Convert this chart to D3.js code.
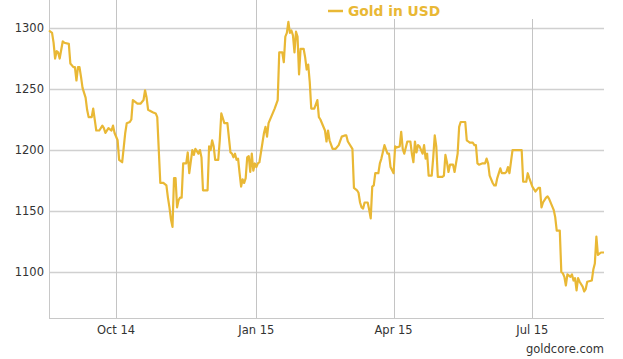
<!DOCTYPE html>
<html><head><meta charset="utf-8">
<script src="https://cdnjs.cloudflare.com/ajax/libs/d3/7.8.5/d3.min.js"></script>
<style>body{margin:0;background:#fff}svg{display:block}text{font-family:"DejaVu Sans",Verdana,sans-serif}</style>
</head><body><svg id="c" width="623" height="359"></svg>
<script>
const seriesName = "Gold in USD";
const dates = ["2014-08-18","2014-08-20","2014-08-21","2014-08-22","2014-08-23","2014-08-24","2014-08-25","2014-08-26","2014-08-27","2014-08-28","2014-08-31","2014-09-01","2014-09-03","2014-09-04","2014-09-05","2014-09-06","2014-09-07","2014-09-08","2014-09-09","2014-09-11","2014-09-12","2014-09-13","2014-09-15","2014-09-16","2014-09-17","2014-09-18","2014-09-20","2014-09-22","2014-09-23","2014-09-24","2014-09-26","2014-09-28","2014-09-29","2014-09-30","2014-10-02","2014-10-03","2014-10-05","2014-10-06","2014-10-07","2014-10-08","2014-10-10","2014-10-11","2014-10-12","2014-10-15","2014-10-17","2014-10-19","2014-10-20","2014-10-21","2014-10-22","2014-10-25","2014-10-27","2014-10-28","2014-10-30","2014-10-31","2014-11-01","2014-11-03","2014-11-04","2014-11-05","2014-11-06","2014-11-07","2014-11-08","2014-11-09","2014-11-10","2014-11-11","2014-11-12","2014-11-13","2014-11-14","2014-11-16","2014-11-17","2014-11-18","2014-11-20","2014-11-21","2014-11-22","2014-11-24","2014-11-25","2014-11-26","2014-11-27","2014-11-30","2014-12-01","2014-12-02","2014-12-03","2014-12-04","2014-12-05","2014-12-07","2014-12-08","2014-12-09","2014-12-11","2014-12-13","2014-12-15","2014-12-16","2014-12-17","2014-12-18","2014-12-19","2014-12-20","2014-12-21","2014-12-22","2014-12-23","2014-12-24","2014-12-25","2014-12-26","2014-12-27","2014-12-28","2014-12-29","2014-12-30","2014-12-31","2015-01-01","2015-01-02","2015-01-03","2015-01-05","2015-01-06","2015-01-07","2015-01-08","2015-01-09","2015-01-11","2015-01-13","2015-01-15","2015-01-16","2015-01-18","2015-01-19","2015-01-20","2015-01-21","2015-01-22","2015-01-23","2015-01-24","2015-01-25","2015-01-26","2015-01-27","2015-01-28","2015-01-29","2015-01-30","2015-02-01","2015-02-02","2015-02-03","2015-02-04","2015-02-05","2015-02-06","2015-02-08","2015-02-10","2015-02-11","2015-02-12","2015-02-15","2015-02-16","2015-02-17","2015-02-18","2015-02-20","2015-02-22","2015-02-24","2015-02-26","2015-02-28","2015-03-01","2015-03-02","2015-03-05","2015-03-06","2015-03-08","2015-03-09","2015-03-10","2015-03-11","2015-03-12","2015-03-13","2015-03-15","2015-03-16","2015-03-17","2015-03-18","2015-03-19","2015-03-20","2015-03-22","2015-03-23","2015-03-24","2015-03-26","2015-03-28","2015-03-29","2015-03-30","2015-04-01","2015-04-02","2015-04-03","2015-04-05","2015-04-06","2015-04-07","2015-04-08","2015-04-10","2015-04-12","2015-04-13","2015-04-14","2015-04-15","2015-04-16","2015-04-17","2015-04-18","2015-04-20","2015-04-21","2015-04-22","2015-04-23","2015-04-24","2015-04-26","2015-04-27","2015-04-28","2015-04-29","2015-04-30","2015-05-03","2015-05-04","2015-05-05","2015-05-06","2015-05-07","2015-05-08","2015-05-10","2015-05-11","2015-05-13","2015-05-14","2015-05-15","2015-05-18","2015-05-19","2015-05-20","2015-05-21","2015-05-23","2015-05-24","2015-05-25","2015-05-26","2015-05-27","2015-05-29","2015-05-31","2015-06-01","2015-06-02","2015-06-03","2015-06-05","2015-06-06","2015-06-07","2015-06-08","2015-06-10","2015-06-11","2015-06-13","2015-06-14","2015-06-15","2015-06-16","2015-06-18","2015-06-24","2015-06-25","2015-06-27","2015-06-28","2015-06-29","2015-07-01","2015-07-03","2015-07-05","2015-07-06","2015-07-07","2015-07-08","2015-07-10","2015-07-11","2015-07-12","2015-07-15","2015-07-16","2015-07-17","2015-07-19","2015-07-20","2015-07-21","2015-07-22","2015-07-23","2015-07-24","2015-07-26","2015-07-27","2015-07-28","2015-07-29","2015-07-30","2015-07-31","2015-08-01","2015-08-03","2015-08-04","2015-08-05","2015-08-06","2015-08-09","2015-08-10","2015-08-11","2015-08-12","2015-08-13","2015-08-15","2015-08-17"];
const prices = [1298,1296,1288,1275,1281,1280,1275,1282,1289,1288,1287,1271,1268,1268,1257,1268,1268,1260,1251,1243,1233,1227,1227,1234,1225,1216,1216,1220,1218,1214,1218,1216,1220,1214,1208,1192,1190,1202,1214,1222,1223,1225,1241,1238,1238,1241,1249,1243,1233,1231,1230,1227,1173,1173,1173,1171,1161,1153,1143,1137,1177,1177,1153,1159,1161,1161,1189,1189,1198,1181,1200,1196,1201,1197,1200,1194,1167,1167,1203,1200,1208,1203,1192,1192,1208,1230,1222,1222,1198,1197,1194,1197,1192,1193,1181,1170,1176,1173,1177,1194,1195,1182,1197,1183,1189,1186,1189,1190,1206,1214,1219,1211,1222,1228,1234,1241,1280,1280,1272,1293,1296,1305,1296,1298,1294,1280,1297,1293,1262,1283,1283,1276,1266,1270,1256,1234,1234,1241,1227,1225,1216,1207,1216,1208,1201,1201,1204,1211,1212,1212,1207,1201,1169,1167,1165,1157,1153,1152,1157,1157,1151,1144,1170,1171,1181,1181,1189,1193,1204,1197,1197,1186,1181,1203,1202,1203,1215,1201,1197,1207,1207,1197,1190,1207,1198,1204,1203,1197,1204,1193,1197,1179,1179,1194,1212,1203,1178,1178,1179,1196,1190,1182,1188,1188,1182,1197,1219,1223,1223,1208,1207,1206,1206,1204,1204,1189,1188,1189,1189,1193,1189,1179,1173,1171,1171,1177,1185,1181,1181,1182,1186,1181,1200,1200,1174,1174,1181,1177,1170,1166,1169,1169,1153,1157,1161,1162,1160,1151,1145,1134,1134,1100,1099,1096,1089,1098,1096,1098,1093,1095,1085,1095,1092,1088,1084,1086,1092,1093,1102,1107,1129,1114,1116,1116];
const yTicks = [1100,1150,1200,1250,1300];
const xTicks = ["2014-10-01","2015-01-01","2015-04-01","2015-07-01"];
const xTickLabels = ["Oct 14","Jan 15","Apr 15","Jul 15"];
const credit = "goldcore.com";

const parse = d3.timeParse("%Y-%m-%d");
const data = dates.map((d,i)=>({date:parse(d), value:prices[i]}));
const svg = d3.select("#c");
const L=49, R=604, T=0, B=318;
const color = "#E9B835";
const x = d3.scaleTime().domain([parse("2014-08-18"), parse("2015-08-17")]).range([L,R]);
const y = d3.scaleLinear().domain([1062.3, 1323]).range([B,T]);

svg.append("g").selectAll("line").data(yTicks).join("line")
  .attr("x1",L).attr("x2",R).attr("y1",d=>Math.round(y(d))+0.5).attr("y2",d=>Math.round(y(d))+0.5)
  .attr("stroke","#d0d0d0").attr("stroke-width",1.3);
svg.append("g").selectAll("line").data(xTicks).join("line")
  .attr("x1",d=>Math.round(x(parse(d)))+0.5).attr("x2",d=>Math.round(x(parse(d)))+0.5)
  .attr("y1",T).attr("y2",B).attr("stroke","#c4c4c4").attr("stroke-width",1);
svg.append("line").attr("x1",L+0.5).attr("x2",L+0.5).attr("y1",T).attr("y2",B).attr("stroke","#c8c8c8");
svg.append("line").attr("x1",L).attr("x2",R).attr("y1",B+0.5).attr("y2",B+0.5).attr("stroke","#c8c8c8");

svg.append("g").selectAll("text").data(yTicks).join("text")
  .attr("x",L-5).attr("y",d=>y(d)+4).attr("text-anchor","end")
  .attr("font-size",11.5).attr("fill","#333").text(d=>d);
svg.append("g").selectAll("text").data(xTicks).join("text")
  .attr("x",d=>x(parse(d))).attr("y",B+16).attr("text-anchor","middle")
  .attr("font-size",11.5).attr("fill","#333").text((d,i)=>xTickLabels[i]);

const line = d3.line().x(d=>x(d.date)).y(d=>y(d.value));
svg.append("path").datum(data).attr("d",line).attr("fill","none")
  .attr("stroke",color).attr("stroke-width",2.2).attr("stroke-linejoin","round");

svg.append("rect").attr("x",300).attr("y",0).attr("width",323).attr("height",19).attr("fill","#fff");
svg.append("line").attr("x1",328).attr("x2",343).attr("y1",11).attr("y2",11).attr("stroke",color).attr("stroke-width",2.5);
svg.append("text").attr("x",348).attr("y",16).attr("font-size",13.8).attr("font-weight","bold").attr("fill",color).text(seriesName);

svg.append("text").attr("x",R).attr("y",353).attr("text-anchor","end").attr("font-size",11.5).attr("fill","#333").text(credit);
</script></body></html>
